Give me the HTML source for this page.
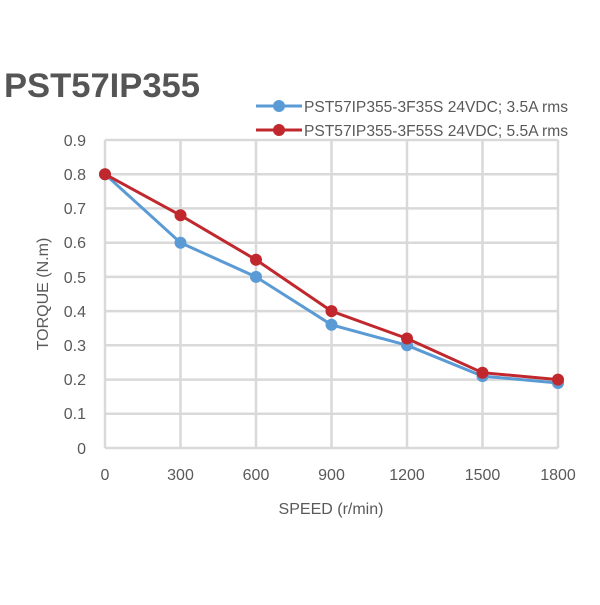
<!DOCTYPE html>
<html><head><meta charset="utf-8"><style>
body{margin:0;background:#fff;width:600px;height:600px;overflow:hidden}
svg text{font-family:"Liberation Sans",sans-serif;fill:#595959}
</style></head><body>
<svg width="600" height="600" xmlns="http://www.w3.org/2000/svg">
<text x="4" y="97" font-size="34" font-weight="bold" textLength="196" lengthAdjust="spacingAndGlyphs" style="fill:#555">PST57IP355</text>
<g stroke="#d9d9d9" stroke-width="2.5">
<line x1="105" y1="140" x2="558" y2="140"/><line x1="105" y1="174.2" x2="558" y2="174.2"/>
<line x1="105" y1="208.4" x2="558" y2="208.4"/><line x1="105" y1="242.7" x2="558" y2="242.7"/>
<line x1="105" y1="276.9" x2="558" y2="276.9"/><line x1="105" y1="311.1" x2="558" y2="311.1"/>
<line x1="105" y1="345.3" x2="558" y2="345.3"/><line x1="105" y1="379.6" x2="558" y2="379.6"/>
<line x1="105" y1="413.8" x2="558" y2="413.8"/><line x1="105" y1="448" x2="558" y2="448"/>
<line x1="105" y1="140" x2="105" y2="448"/><line x1="180.5" y1="140" x2="180.5" y2="448"/>
<line x1="256" y1="140" x2="256" y2="448"/><line x1="331.5" y1="140" x2="331.5" y2="448"/>
<line x1="407" y1="140" x2="407" y2="448"/><line x1="482.5" y1="140" x2="482.5" y2="448"/>
<line x1="558" y1="140" x2="558" y2="448"/>
</g>
<g font-size="16" text-anchor="end">
<text x="86" y="146">0.9</text><text x="86" y="180">0.8</text><text x="86" y="214">0.7</text>
<text x="86" y="248">0.6</text><text x="86" y="283">0.5</text><text x="86" y="317">0.4</text>
<text x="86" y="351">0.3</text><text x="86" y="385">0.2</text><text x="86" y="419">0.1</text>
<text x="86" y="454">0</text>
</g>
<g font-size="16" text-anchor="middle">
<text x="105" y="480">0</text><text x="180.5" y="480">300</text><text x="256" y="480">600</text>
<text x="331.5" y="480">900</text><text x="407" y="480">1200</text><text x="482.5" y="480">1500</text>
<text x="558" y="480">1800</text>
<text x="331" y="514">SPEED (r/min)</text>
<text transform="translate(48,294) rotate(-90)">TORQUE (N.m)</text>
</g>
<polyline fill="none" stroke="#5b9bd5" stroke-width="3" points="105,174.2 180.5,242.7 256,276.9 331.5,324.8 407,345.3 482.5,376.1 558,383"/>
<g fill="#5b9bd5"><circle cx="105" cy="174.2" r="6"/><circle cx="180.5" cy="242.7" r="6"/><circle cx="256" cy="276.9" r="6"/><circle cx="331.5" cy="324.8" r="6"/><circle cx="407" cy="345.3" r="6"/><circle cx="482.5" cy="376.1" r="6"/><circle cx="558" cy="383" r="6"/></g>
<polyline fill="none" stroke="#c0282d" stroke-width="3" points="105,174.2 180.5,215.3 256,259.8 331.5,311.1 407,338.5 482.5,372.7 558,379.6"/>
<g fill="#c0282d"><circle cx="105" cy="174.2" r="6"/><circle cx="180.5" cy="215.3" r="6"/><circle cx="256" cy="259.8" r="6"/><circle cx="331.5" cy="311.1" r="6"/><circle cx="407" cy="338.5" r="6"/><circle cx="482.5" cy="372.7" r="6"/><circle cx="558" cy="379.6" r="6"/></g>
<line x1="256" y1="106" x2="302" y2="106" stroke="#5b9bd5" stroke-width="3"/><circle cx="279" cy="106" r="6" fill="#5b9bd5"/>
<line x1="256" y1="130" x2="302" y2="130" stroke="#c0282d" stroke-width="3"/><circle cx="279" cy="130" r="6" fill="#c0282d"/>
<text x="304" y="112" font-size="16" textLength="264" lengthAdjust="spacingAndGlyphs">PST57IP355-3F35S 24VDC; 3.5A rms</text>
<text x="304" y="136" font-size="16" textLength="264" lengthAdjust="spacingAndGlyphs">PST57IP355-3F55S 24VDC; 5.5A rms</text>
</svg>
</body></html>
